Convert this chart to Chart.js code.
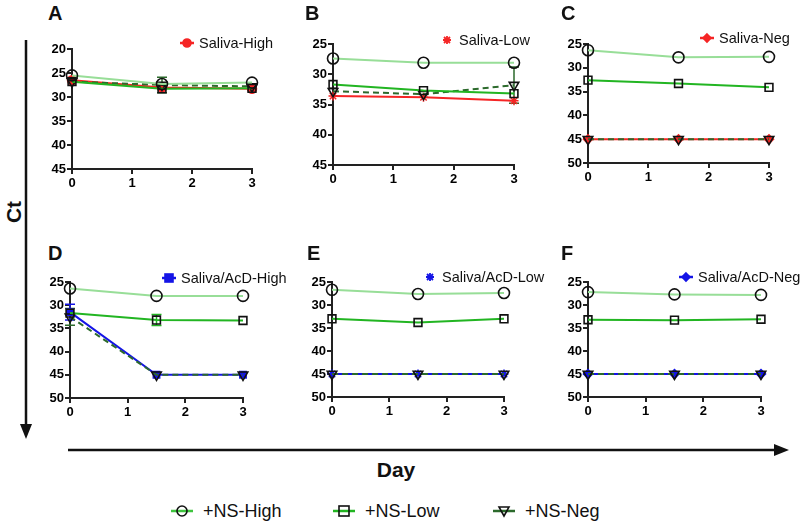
<!DOCTYPE html>
<html>
<head>
<meta charset="utf-8">
<script src="https://cdn.jsdelivr.net/npm/chart.js@4.4.1/dist/chart.umd.min.js"></script>
<style>
body { margin: 0; width: 800px; height: 530px; position: relative; background: #fff; overflow: hidden;
       font-family: "Liberation Sans", Arial, sans-serif; color: #111; }
.panel { position: absolute; }
.letter { position: absolute; font-weight: bold; font-size: 20px; line-height: 20px; }
.key { position: absolute; display: flex; align-items: center; white-space: nowrap; font-size: 14.5px; }
.key svg { margin-right: 5px; }
.bigkey { position: absolute; display: flex; align-items: center; white-space: nowrap; font-size: 18px; }
.bigkey svg { margin-right: 10px; }
.axisTitle { position: absolute; font-weight: bold; font-size: 21px; }
</style>
</head>
<body>
<svg id="arrows" width="800" height="530" style="position:absolute;left:0;top:0">
  <line x1="26" y1="40" x2="26" y2="426" stroke="#111" stroke-width="2.5"/>
  <polygon points="20,424 32,424 26,439" fill="#111"/>
  <line x1="68" y1="450" x2="776" y2="450" stroke="#111" stroke-width="2.5"/>
  <polygon points="774,444 774,456 789,450" fill="#111"/>
</svg>
<div class="axisTitle" style="left:-6px;top:200px;transform:rotate(-90deg);width:40px;text-align:center">Ct</div>
<div class="axisTitle" style="left:356px;top:458px;width:80px;text-align:center">Day</div>
<div id="bottomKey"></div>

<script>
// data
const panels = ['A', 'B', 'C', 'D', 'E', 'F'];
const sampleLabels = ['Saliva-High', 'Saliva-Low', 'Saliva-Neg', 'Saliva/AcD-High', 'Saliva/AcD-Low', 'Saliva/AcD-Neg'];
const nsLabels = ['+NS-High', '+NS-Low', '+NS-Neg'];
const days = [0, 1.5, 3];
const yMin = [20, 25, 25, 25, 25, 25];
const yMax = [45, 45, 50, 50, 50, 50];

const nsHigh = [[25.5, 27.3, 27.0], [27.4, 28.1, 28.1], [26.3, 27.8, 27.7], [26.4, 28.0, 28.0], [26.7, 27.6, 27.4], [27.2, 27.7, 27.8]];
const nsLow  = [[26.8, 28.3, 28.2], [31.7, 32.7, 33.2], [32.6, 33.3, 34.1], [31.7, 33.2, 33.3], [33.0, 33.8, 33.0], [33.2, 33.3, 33.1]];
const nsNeg  = [[26.8, 27.5, 27.8], [32.8, 33.3, 31.8], [45, 45, 45], [32.5, 45, 45], [45, 45, 45], [45, 45, 45]];
const sample = [[26.5, 28.0, 28.3], [33.6, 33.8, 34.4], [45, 45, 45], [31.5, 45, 45], [45, 45, 45], [45, 45, 45]];

// error bars (+/-), 0 = none drawn
const errLow    = [[0, 0, 0], [0, 0, 0], [0, 0, 0], [0, 1.2, 0], [0, 0, 0], [0, 0, 0]];
const errNeg    = [[0, 1.6, 0], [0, 0, 3.0], [0, 0, 0], [1.8, 0, 0], [0, 0, 0], [0, 0, 0]];
const errSample = [[0, 0, 0], [0, 0, 0], [0, 0, 0], [1.7, 0, 0], [0, 0, 0], [0, 0, 0]];

// styles and layout
const RED = '#f52525', BLUE = '#1414e6';
const HIGH_C = '#98de98', LOW_C = '#22b522', NEG_C = '#2c6a2c';
const sampleColors = [RED, RED, RED, BLUE, BLUE, BLUE];
const sampleMarkers = ['circle', 'star', 'rectRot', 'rect', 'star', 'rectRot'];
const boxes = [
    { x: 72, y: 49, w: 180, h: 120 },
    { x: 333, y: 44, w: 181, h: 121 },
    { x: 588, y: 44, w: 181, h: 119 },
    { x: 70, y: 282, w: 173, h: 116 },
    { x: 332, y: 282, w: 172, h: 115 },
    { x: 588, y: 282, w: 173, h: 115 }
];
const letterPos = [[48, 3], [305, 3], [561, 3], [48, 243], [307, 243], [561, 243]];
const keyPos = [[180, 43], [440, 40], [700, 38], [162, 278], [423, 277], [679, 277]];

const errorBars = {
    id: 'errorBars',
    beforeDatasetsDraw(chart) {
        const ctx = chart.ctx, xs = chart.scales.x, ys = chart.scales.y;
        chart.data.datasets.forEach(ds => {
            (ds.errors || []).forEach((e, k) => {
                if (!e) return;
                const px = xs.getPixelForValue(ds.data[k].x);
                const y1 = ys.getPixelForValue(ds.data[k].y - e);
                const y2 = ys.getPixelForValue(ds.data[k].y + e);
                ctx.save();
                ctx.strokeStyle = ds.borderColor;
                ctx.lineWidth = 1.5;
                ctx.beginPath();
                ctx.moveTo(px, y1); ctx.lineTo(px, y2);
                ctx.moveTo(px - 5, y1); ctx.lineTo(px + 5, y1);
                ctx.moveTo(px - 5, y2); ctx.lineTo(px + 5, y2);
                ctx.stroke();
                ctx.restore();
            });
        });
    }
};

function pts(vals) {
    return days.map((d, k) => ({ x: d, y: vals[k] }));
}

function nsSeries(label, vals, errs, color, marker, dashed) {
    return {
        label: label,
        data: pts(vals),
        errors: errs,
        borderColor: color,
        borderWidth: 2,
        borderDash: dashed ? [6, 4] : [],
        tension: 0,
        clip: false,
        pointStyle: marker,
        pointRotation: marker === 'triangle' ? 180 : 0,
        pointRadius: 5.5,
        pointBorderColor: '#111',
        pointBorderWidth: 1.6,
        pointBackgroundColor: 'rgba(255,255,255,0)'
    };
}

function sampleSeries(i) {
    return {
        label: sampleLabels[i],
        data: pts(sample[i]),
        errors: errSample[i],
        borderColor: sampleColors[i],
        borderWidth: 2,
        tension: 0,
        clip: false,
        pointStyle: sampleMarkers[i],
        pointRadius: 4.5,
        pointBorderColor: sampleColors[i],
        pointBorderWidth: 1.5,
        pointBackgroundColor: sampleColors[i]
    };
}

function markerSvg(style, color, fill, lineColor, dashed, w, h, r) {
    const cx = w / 2, cy = h / 2;
    let s = '<svg width="' + w + '" height="' + h + '">';
    if (lineColor) {
        s += '<line x1="0" y1="' + cy + '" x2="' + w + '" y2="' + cy + '" stroke="' + lineColor +
             '" stroke-width="2.5"' + (dashed ? ' stroke-dasharray="5,3"' : '') + '/>';
    }
    const st = 'stroke="' + color + '" stroke-width="1.6" fill="' + fill + '"';
    if (style === 'circle') {
        s += '<circle cx="' + cx + '" cy="' + cy + '" r="' + r + '" ' + st + '/>';
    } else if (style === 'rect') {
        s += '<rect x="' + (cx - r) + '" y="' + (cy - r) + '" width="' + 2 * r + '" height="' + 2 * r + '" ' + st + '/>';
    } else if (style === 'rectRot') {
        s += '<polygon points="' + cx + ',' + (cy - r) + ' ' + (cx + r) + ',' + cy + ' ' + cx + ',' + (cy + r) + ' ' + (cx - r) + ',' + cy + '" ' + st + '/>';
    } else if (style === 'triangle') {
        s += '<polygon points="' + (cx - r) + ',' + (cy - r * 0.8) + ' ' + (cx + r) + ',' + (cy - r * 0.8) + ' ' + cx + ',' + (cy + r) + '" ' + st + '/>';
    } else if (style === 'star') {
        const d = r * 0.75;
        s += '<path d="M' + cx + ' ' + (cy - r) + 'V' + (cy + r) + 'M' + (cx - r) + ' ' + cy + 'H' + (cx + r) +
             'M' + (cx - d) + ' ' + (cy - d) + 'L' + (cx + d) + ' ' + (cy + d) +
             'M' + (cx - d) + ' ' + (cy + d) + 'L' + (cx + d) + ' ' + (cy - d) + '" stroke="' + color + '" stroke-width="1.8" fill="none"/>';
    }
    return s + '</svg>';
}

const tickFont = { family: '"Liberation Sans", Arial, sans-serif', size: 13, weight: 'bold' };

panels.forEach((p, i) => {
    const b = boxes[i];
    const W = b.w + 40 + 14, H = b.h + 10 + 28;
    const wrap = document.createElement('div');
    wrap.className = 'panel';
    wrap.style.left = (b.x - 40) + 'px';
    wrap.style.top = (b.y - 10) + 'px';
    const cv = document.createElement('canvas');
    cv.width = W; cv.height = H;
    cv.style.width = W + 'px'; cv.style.height = H + 'px';
    wrap.appendChild(cv);
    document.body.appendChild(wrap);

    const letter = document.createElement('div');
    letter.className = 'letter';
    letter.style.left = letterPos[i][0] + 'px';
    letter.style.top = letterPos[i][1] + 'px';
    letter.textContent = p;
    document.body.appendChild(letter);

    const key = document.createElement('div');
    key.className = 'key';
    key.style.left = keyPos[i][0] + 'px';
    key.style.top = (keyPos[i][1] - 10) + 'px';
    key.style.height = '20px';
    const hasLine = sampleMarkers[i] !== 'star';
    key.innerHTML = markerSvg(sampleMarkers[i], sampleColors[i], sampleColors[i],
        hasLine ? sampleColors[i] : null, false, 14, 14, 4) + '<span>' + sampleLabels[i] + '</span>';
    document.body.appendChild(key);

    new Chart(cv, {
        type: 'line',
        data: {
            datasets: [
                nsSeries(nsLabels[0], nsHigh[i], null, HIGH_C, 'circle', false),
                nsSeries(nsLabels[1], nsLow[i], errLow[i], LOW_C, 'rect', false),
                nsSeries(nsLabels[2], nsNeg[i], errNeg[i], NEG_C, 'triangle', true),
                sampleSeries(i)
            ]
        },
        options: {
            responsive: false,
            animation: false,
            devicePixelRatio: 1,
            layout: { padding: { top: 10, right: 14, left: 0, bottom: 0 } },
            plugins: { legend: { display: false }, tooltip: { enabled: false } },
            scales: {
                x: {
                    type: 'linear',
                    min: 0, max: 3,
                    ticks: { stepSize: 1, color: '#000', font: tickFont, padding: 2, maxRotation: 0 },
                    grid: { drawOnChartArea: false, drawTicks: true, tickLength: 5, color: '#222', lineWidth: 2 },
                    border: { color: '#222', width: 2 },
                    afterFit(s) { s.height = 28; }
                },
                y: {
                    type: 'linear',
                    reverse: true,
                    min: yMin[i], max: yMax[i],
                    ticks: { stepSize: 5, color: '#000', font: tickFont, padding: 1 },
                    grid: { drawOnChartArea: false, drawTicks: true, tickLength: 5, color: '#222', lineWidth: 2 },
                    border: { color: '#222', width: 2 },
                    afterFit(s) { s.width = 40; }
                }
            }
        },
        plugins: [errorBars]
    });
});

// shared legend at the bottom
const bottomKeys = [
    { x: 171, style: 'circle', color: '#3ec43e', dashed: false },
    { x: 333, style: 'rect', color: LOW_C, dashed: false },
    { x: 493, style: 'triangle', color: NEG_C, dashed: false }
];
const bk = document.getElementById('bottomKey');
bottomKeys.forEach((k, j) => {
    const d = document.createElement('div');
    d.className = 'bigkey';
    d.style.left = k.x + 'px';
    d.style.top = '499px';
    d.style.height = '24px';
    d.innerHTML = markerSvg(k.style, '#111', 'none', k.color, k.dashed, 22, 16, 5) + '<span>' + nsLabels[j] + '</span>';
    bk.appendChild(d);
});
</script>
</body>
</html>
